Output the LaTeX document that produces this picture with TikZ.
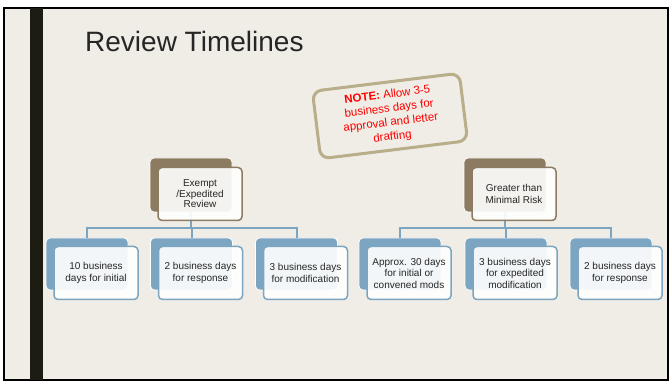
\documentclass[tikz,border=0pt]{standalone}
\usepackage{fontspec}
\setmainfont{Liberation Sans}
\usetikzlibrary{positioning}
\definecolor{slidebg}{HTML}{EFEDE6}
\definecolor{slidebar}{HTML}{1C1C12}
\definecolor{tlbrown}{HTML}{8C7B60}
\definecolor{tlblue}{HTML}{7BA5C0}
\definecolor{tlnote}{HTML}{B8AE8A}
\definecolor{tltext}{HTML}{262626}
\tikzset{
  topback/.style={draw=white, line width=0.8pt, fill=tlbrown, rounded corners=4pt,
                  minimum width=82pt, minimum height=54pt},
  topfront/.style={draw=tlbrown, line width=1.5pt, fill=white, fill opacity=0.9,
                   text opacity=1, rounded corners=4pt, minimum width=84pt,
                   minimum height=53pt, inner sep=1pt, align=center, text=tltext,
                   font=\fontsize{10}{11.5}\selectfont},
  subback/.style={draw=white, line width=0.8pt, fill=tlblue, rounded corners=4pt,
                  minimum width=82pt, minimum height=52pt},
  subfront/.style={draw=tlblue, line width=1.5pt, fill=white, fill opacity=0.9,
                   text opacity=1, rounded corners=4pt, minimum width=84pt,
                   minimum height=53pt, inner sep=1pt, align=center, text=tltext,
                   font=\fontsize{10}{11.5}\selectfont},
  note/.style={draw=tlnote, line width=3pt, fill=slidebg, rounded corners=9pt,
               minimum width=148pt, minimum height=68pt, align=center, text=red,
               font=\fontsize{11.5}{14}\selectfont, rotate=7},
  link/.style={draw=tlblue, line width=2pt},
}

\begin{document}
\begin{tikzpicture}[x=1pt, y=-1pt]
\useasboundingbox (0,0) rectangle (670,382);

% slide frame
\fill[white] (0,0) rectangle (670,382);
\draw[black, line width=1.2pt, fill=slidebg] (4,8) rectangle (668,380);
\fill[slidebar] (30,8) rectangle (43,380);

\node[anchor=base west, text=tltext, font=\fontsize{28}{33}\selectfont, inner sep=0pt]
  (title) at (85,52) {Review Timelines};

\coordinate (busL) at (191,228);
\coordinate (busR) at (505,228);

\node[topback] (exb) at (191,185) {};
\node[topback] (gtb) at (505,185) {};

\node[subback] (s1) at (87,264) {};
\node[subback] (s2) at (191.5,264) {};
\node[subback] (s3) at (296.5,264) {};
\node[subback] (s4) at (400,264) {};
\node[subback] (s5) at (506,264) {};
\node[subback] (s6) at (611,264) {};

% tree connectors
\draw[link] (exb.south) -- (busL) -| (s1.north);
\draw[link] (busL) -| (s2.north);
\draw[link] (busL) -| (s3.north);
\draw[link] (gtb.south) -- (busR) -| (s4.north);
\draw[link] (busR) -| (s5.north);
\draw[link] (busR) -| (s6.north);

\node[topfront, font=\fontsize{10}{10.5}\selectfont] (exf) at ([shift={(9,9)}]exb)
  {Exempt\\/Expedited\\Review};
\node[topfront] (gtf) at ([shift={(9,9)}]gtb) {Greater than\\Minimal Risk};

\node[subfront] (s1f) at ([shift={(9,9)}]s1) {10 business\\days for initial};
\node[subfront] (s2f) at ([shift={(9,9)}]s2) {2 business days\\for response};
\node[subfront] (s3f) at ([shift={(9,9)}]s3) {3 business days\\for modification};
\node[subfront] (s4f) at ([shift={(9,9)}]s4) {Approx. 30 days\\for initial or\\convened mods};
\node[subfront] (s5f) at ([shift={(9,9)}]s5) {3 business days\\for expedited\\modification};
\node[subfront] (s6f) at ([shift={(9,9)}]s6) {2 business days\\for response};

\node[note] (memo) at (390,116)
  {\textbf{NOTE:} Allow 3-5\\business days for\\approval and letter\\drafting};

\end{tikzpicture}
\end{document}
